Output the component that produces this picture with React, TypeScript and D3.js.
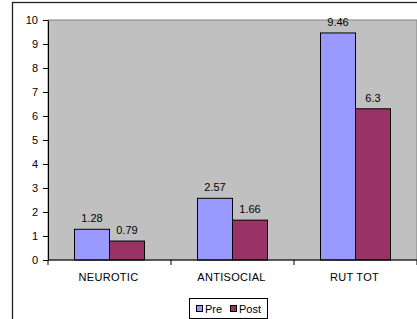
import React, { useEffect, useRef } from "react";
import * as d3 from "d3";

const categories = ["NEUROTIC", "ANTISOCIAL", "RUT TOT"];
const seriesNames = ["Pre", "Post"];
const preValues = [1.28, 2.57, 9.46];
const postValues = [0.79, 1.66, 6.3];
const yTicks = [0, 1, 2, 3, 4, 5, 6, 7, 8, 9, 10];
const seriesColors = ["#9999FF", "#993366"];

const W = 417;
const H = 319;
const FONT = "'Liberation Sans', Arial, sans-serif";

export default function App() {
  const svgRef = useRef<SVGSVGElement | null>(null);

  useEffect(() => {
    if (!svgRef.current) return;
    const svg = d3.select(svgRef.current);
    svg.selectAll("*").remove();

    const plot = { left: 48, right: 417, top: 20, bottom: 260 };

    // outer chart border
    svg
      .append("rect")
      .attr("x", 12.5)
      .attr("y", 2.5)
      .attr("width", 420)
      .attr("height", 330)
      .attr("fill", "#fff")
      .attr("stroke", "#222")
      .attr("stroke-width", 1.3);

    const x = d3
      .scaleBand<string>()
      .domain(categories)
      .range([plot.left, plot.right])
      .paddingInner(0)
      .paddingOuter(0);

    const xInner = d3
      .scaleBand<string>()
      .domain(seriesNames)
      .range([0, x.bandwidth()])
      .paddingInner(0)
      .paddingOuter(0.757);

    const y = d3.scaleLinear().domain([0, 10]).range([plot.bottom, plot.top]);

    // plot background
    svg
      .append("rect")
      .attr("x", plot.left)
      .attr("y", plot.top)
      .attr("width", plot.right - plot.left)
      .attr("height", plot.bottom - plot.top)
      .attr("fill", "#C0C0C0")
      .attr("stroke", "#808080")
      .attr("stroke-width", 1);

    // bars
    const rows = categories.map((c, i) => ({
      cat: c,
      vals: [preValues[i], postValues[i]],
    }));

    rows.forEach((row) => {
      row.vals.forEach((v, j) => {
        const bx = (x(row.cat) ?? 0) + (xInner(seriesNames[j]) ?? 0);
        const bw = xInner.bandwidth();
        svg
          .append("rect")
          .attr("x", bx)
          .attr("y", y(v))
          .attr("width", bw)
          .attr("height", y(0) - y(v))
          .attr("fill", seriesColors[j])
          .attr("stroke", "#000")
          .attr("stroke-width", 1);
        svg
          .append("text")
          .attr("x", bx + bw / 2)
          .attr("y", y(v) - 7)
          .attr("text-anchor", "middle")
          .attr("font-family", FONT)
          .attr("font-size", 11)
          .attr("fill", "#000")
          .text(String(v));
      });
    });

    // y axis
    const yAxis = svg
      .append("g")
      .attr("transform", `translate(${plot.left},0)`)
      .call(d3.axisLeft(y).tickValues(yTicks).tickSize(5).tickSizeOuter(0).tickPadding(5));
    yAxis.select(".domain").attr("stroke", "#000");
    yAxis.selectAll("line").attr("stroke", "#000");
    yAxis
      .selectAll("text")
      .attr("font-family", FONT)
      .attr("font-size", 11)
      .attr("fill", "#000");

    // x axis
    const xAxisG = svg.append("g").attr("transform", `translate(0,${plot.bottom})`);
    xAxisG
      .append("line")
      .attr("x1", plot.left)
      .attr("x2", plot.right)
      .attr("stroke", "#000");
    const tickXs = categories.map((c) => (x(c) ?? 0)).concat([plot.right]);
    tickXs.forEach((tx) => {
      xAxisG
        .append("line")
        .attr("x1", tx)
        .attr("x2", tx)
        .attr("y1", 0)
        .attr("y2", 5)
        .attr("stroke", "#000");
    });
    categories.forEach((c) => {
      xAxisG
        .append("text")
        .attr("x", (x(c) ?? 0) + x.bandwidth() / 2 - 1)
        .attr("y", 21)
        .attr("text-anchor", "middle")
        .attr("font-family", FONT)
        .attr("font-size", 11)
        .attr("letter-spacing", 0.3)
        .attr("fill", "#000")
        .text(c);
    });

    // legend
    const lg = svg.append("g");
    lg.append("rect")
      .attr("x", 189.5)
      .attr("y", 298.5)
      .attr("width", 78)
      .attr("height", 20)
      .attr("fill", "#fff")
      .attr("stroke", "#000")
      .attr("stroke-width", 1);
    const legendX = [196, 230];
    seriesNames.forEach((s, j) => {
      lg.append("rect")
        .attr("x", legendX[j] + 0.5)
        .attr("y", 305.5)
        .attr("width", 6)
        .attr("height", 6)
        .attr("fill", seriesColors[j])
        .attr("stroke", "#000")
        .attr("stroke-width", 1);
      lg.append("text")
        .attr("x", legendX[j] + 9)
        .attr("y", 312.5)
        .attr("font-family", FONT)
        .attr("font-size", 11)
        .attr("fill", "#000")
        .text(s);
    });
  }, []);

  return (
    <svg
      ref={svgRef}
      width={W}
      height={H}
      style={{ position: "absolute", left: 0, top: 0, display: "block" }}
    />
  );
}
